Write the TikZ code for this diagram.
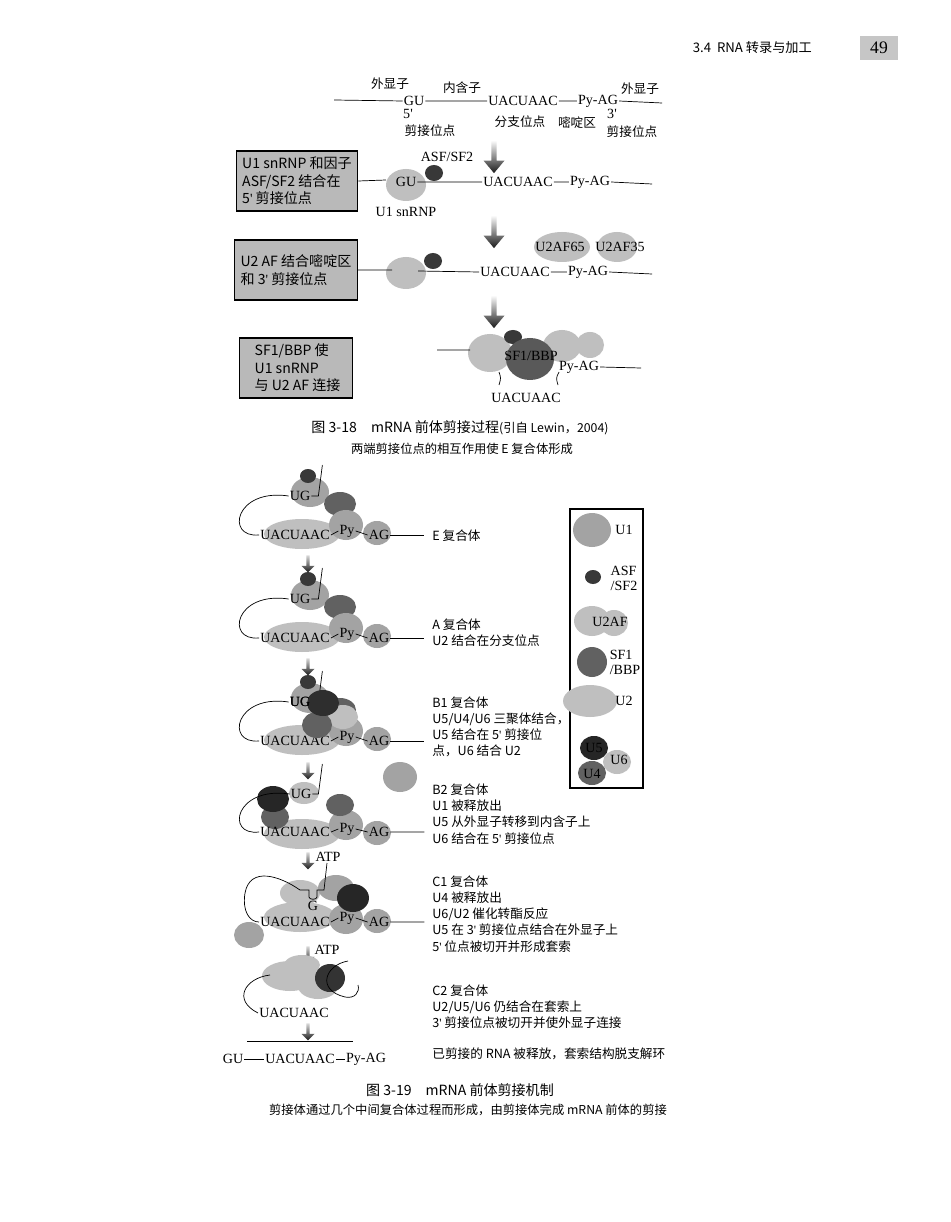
\documentclass[tikz,border=0pt]{standalone}
\usepackage{fontspec}
\setmainfont{Noto Sans CJK SC}
\newfontfamily\latinfont{Liberation Serif}
\newcommand\pr{{\latinfont'}}
\usetikzlibrary{shapes.arrows}
\tikzset{
	lt/.style={fill=gray!50},
	md/.style={fill=gray!72},
	dk/.style={fill=black!78},
	rna/.style={font=\latinfont\fontsize{8}{8.5}\selectfont, inner sep=0.5pt},
	note/.style={font=\fontsize{7.2}{9.2}\selectfont, anchor=west, align=left, inner sep=0pt},
	stagebox/.style={draw, line width=0.8pt, fill=gray!55, minimum width=2.26cm, minimum height=1.2cm, align=left, font=\fontsize{8}{10}\selectfont},
	downarrow/.style={single arrow, shape border rotate=270, top color=white, bottom color=black!90, minimum height=0.66cm, minimum width=0.42cm, single arrow head extend=0.02cm, single arrow tip angle=80, inner sep=0pt},
	smallarrow/.style={single arrow, shape border rotate=270, top color=gray!30, bottom color=black!90, minimum height=0.34cm, minimum width=0.26cm, single arrow head extend=0.02cm, inner sep=0pt}
}
% one complex: U1 with ASF, SF1, U2 and U2AF on the pre-mRNA
\newcommand\SpliceCore[2]{
	\begin{scope}[shift={(0,#1)}]
		\fill[md] (310,492) ellipse (19 and 15);
		\fill[dk] (308,476) ellipse (8 and 7);
		\fill[black!62] (340,504) ellipse (16 and 12);
		\fill[lt] (302,534) ellipse (38 and 15);
		\fill[md] (346,525) ellipse (17 and 15);
		\fill[md] (377,533) ellipse (14 and 12);
		\node[rna] (ug#2) at (300,496) {UG};
		\node[rna] (ua#2) at (295,535) {UACUAAC};
		\node[rna] (py#2) at (347,531) {Py};
		\node[rna] (ag#2) at (379,535) {AG};
		\draw (ug#2.east) -- ++(7,0) -- ++(4,-31);
		\draw (ug#2.west) .. controls (235,488) and (225,538) .. (ua#2.west);
		\draw (ua#2.east) -- (py#2.west) (py#2.east) -- (ag#2.west);
		\draw (ag#2.east) -- ++(34,0);
	\end{scope}
}
\begin{document}
\begin{tikzpicture}[x=0.02cm, y=-0.02cm]
	\useasboundingbox[fill=white] (0,0) rectangle (950,1222);

	% page header
	\node[font=\fontsize{7.5}{9}\selectfont, anchor=east] (header) at (818,48) {3.4\ \ RNA 转录与加工};
	\node[fill=gray!45, minimum width=0.76cm, minimum height=0.44cm, font=\latinfont\fontsize{10}{11}\selectfont] (pageno) at (879,48) {49};

	% ---------- Fig 3-18 ----------
	\node[rna] (gu0) at (414,101) {GU};
	\node[rna] (ua0) at (523,101) {UACUAAC};
	\node[rna] (pa0) at (598,101) {Py-AG};
	\coordinate (l0) at (334,100);
	\coordinate (r0) at (662,103);
	\draw (l0) -- (gu0.west) (gu0.east) -- (ua0.west) (ua0.east) -- (pa0.west) (pa0.east) -- (r0);
	\node[note, anchor=center] (ex1) at (390,84) {外显子};
	\node[note, anchor=center] (intr) at (462,88) {内含子};
	\node[note, anchor=center] (ex2) at (640,89) {外显子};
	\node[rna] (p5) at (408,114) {5'};
	\node[note, anchor=center] (ss5) at (430,131) {剪接位点};
	\node[note, anchor=center] (bps) at (520,122) {分支位点};
	\node[note, anchor=center] (ppt) at (577,123) {嘧啶区};
	\node[rna] (p3) at (612,114) {3'};
	\node[note, anchor=center] (ss3) at (632,132) {剪接位点};

	\node[downarrow] (a1) at (494,155) {};
	\node[downarrow] (a2) at (494,230) {};
	\node[downarrow] (a3) at (494,310) {};

	\node[stagebox] (box1) at (297,181) {U1 snRNP 和因子\\ASF/SF2 结合在\\5\pr\ 剪接位点};
	\node[stagebox] (box2) at (296,270) {U2 AF 结合嘧啶区\\和\ 3\pr\ 剪接位点};
	\node[stagebox] (box3) at (296,368) {\ SF1/BBP 使\\\ U1 snRNP\\\ 与 U2 AF 连接};

	% row 1
	\fill[lt] (406,185) ellipse (20 and 16);
	\fill[dk] (434,173) ellipse (9 and 8);
	\node[rna] (gu1) at (406,182) {GU};
	\node[rna] (asf1) at (447,157) {ASF/SF2};
	\node[rna] (u1lab) at (406,212) {U1 snRNP};
	\node[rna] (ua1) at (518,182) {UACUAAC};
	\node[rna] (pa1) at (590,182) {Py-AG};
	\coordinate (r1) at (652,184);
	\draw (box1.east) -- (386,180) (gu1.east) -- (ua1.west) (ua1.east) -- (pa1.west) (pa1.east) -- (r1);

	% row 2
	\fill[lt] (406,273) ellipse (20 and 16);
	\fill[dk] (433,261) ellipse (9 and 8);
	\fill[lt] (562,247) ellipse (28 and 15);
	\fill[lt] (617,247) ellipse (20 and 15);
	\node[rna] (u2af65) at (560,247) {U2AF65};
	\node[rna] (u2af35) at (620,247) {U2AF35};
	\node[rna] (ua2) at (515,272) {UACUAAC};
	\node[rna] (pa2) at (588,272) {Py-AG};
	\coordinate (r2) at (652,274);
	\draw (box2.east) -- (392,270) (418,271) -- (ua2.west) (ua2.east) -- (pa2.west) (pa2.east) -- (r2);

	% row 3
	\fill[lt] (562,346) ellipse (19 and 16);
	\fill[lt] (590,345) ellipse (14 and 13);
	\fill[lt] (490,353) ellipse (22 and 19);
	\fill[dk] (513,337) ellipse (9 and 7);
	\fill[black!65] (530,359) ellipse (24 and 21);
	\node[rna] (sf1) at (531,356) {SF1/BBP};
	\node[rna] (pa3) at (579,367) {Py-AG};
	\node[rna] (ua3) at (526,398) {UACUAAC};
	\coordinate (l3) at (437,350);
	\coordinate (r3) at (641,368);
	\draw (l3) -- (470,350) (pa3.east) -- (r3);
	\draw (499,372) .. controls (501,378) .. (499,385);
	\draw (559,372) .. controls (556,378) .. (558,385);

	\node[font=\fontsize{8}{10}\selectfont] (cap18) at (460,428) {图 3-18\quad mRNA 前体剪接过程{\fontsize{7}{8}\selectfont (引自 Lewin，2004)}};
	\node[font=\fontsize{7}{8}\selectfont] (sub18) at (462,449) {两端剪接位点的相互作用使 E 复合体形成};

	% ---------- Fig 3-19 ----------
	\SpliceCore{0}{E}
	\node[note] (tE) at (432,536) {E 复合体};
	\node[smallarrow] (s1) at (308,563) {};

	\SpliceCore{103}{A}
	\node[note] (tA) at (432,633) {A 复合体\\U2 结合在分支位点};
	\node[smallarrow] (s2) at (308,666) {};

	\SpliceCore{206}{B}
	\fill[lt] (343,717) ellipse (15 and 12);
	\fill[black!62] (317,725) ellipse (15 and 13);
	\fill[black!82] (323,703) ellipse (16 and 13);
	\node[rna] at (300,702) {UG};
	\node[note] (tB1) at (432,727) {B1 复合体\\U5/U4/U6 三聚体结合，\\U5 结合在 5\pr\ 剪接位\\点，U6 结合 U2};
	\node[smallarrow] (s3) at (308,770) {};

	% B2
	\fill[md] (400,777) ellipse (17 and 15);
	\fill[lt] (302,834) ellipse (38 and 15);
	\fill[md] (346,825) ellipse (17 and 15);
	\fill[md] (377,833) ellipse (14 and 12);
	\fill[black!62] (340,805) ellipse (14 and 11);
	\fill[lt] (304,793) ellipse (15 and 11);
	\fill[black!62] (275,817) ellipse (14 and 12);
	\fill[black!85] (273,799) ellipse (16 and 13);
	\node[rna] (ugB2) at (301,794) {UG};
	\node[rna] (uaB2) at (295,832) {UACUAAC};
	\node[rna] (pyB2) at (347,829) {Py};
	\node[rna] (agB2) at (379,832) {AG};
	\draw (ugB2.east) -- ++(6,0) -- ++(4,-30);
	\draw (ugB2.west) .. controls (235,786) and (225,836) .. (uaB2.west);
	\draw (uaB2.east) -- (pyB2.west) (pyB2.east) -- (agB2.west) (agB2.east) -- ++(34,0);
	\node[note] (tB2) at (432,814) {B2 复合体\\U1 被释放出\\U5 从外显子转移到内含子上\\U6 结合在 5\pr\ 剪接位点};
	\node[smallarrow] (s4) at (308,860) {};
	\node[rna] (atp1) at (328,857) {ATP};

	% C1
	\fill[md] (249,935) ellipse (15 and 13);
	\fill[lt] (300,893) ellipse (20 and 13);
	\fill[md] (336,888) ellipse (18 and 13);
	\fill[lt] (300,917) ellipse (36 and 15);
	\fill[md] (346,919) ellipse (17 and 15);
	\fill[md] (377,921) ellipse (14 and 12);
	\fill[black!85] (353,898) ellipse (16 and 14);
	\node[rna] (gC) at (313,906) {G};
	\node[rna] (uaC) at (295,922) {UACUAAC};
	\node[rna] (pyC) at (347,918) {Py};
	\node[rna] (agC) at (379,922) {AG};
	\draw (327,863) -- (324,890) -- (317,890) -- (317,897) .. controls (317,900) and (309,900) .. (309,897) -- (309,890) -- (300,890)
		.. controls (280,876) and (250,866) .. (245,893) .. controls (242,912) and (250,922) .. (uaC.west);
	\draw (uaC.east) -- (pyC.west) (pyC.east) -- (agC.west) (agC.east) -- ++(34,0);
	\node[note] (tC1) at (432,914) {C1 复合体\\U4 被释放出\\U6/U2 催化转酯反应\\U5 在 3\pr\ 剪接位点结合在外显子上\\5\pr\ 位点被切开并形成套索};
	\node[smallarrow] (s5) at (308,954) {};
	\node[rna] (atp2) at (327,950) {ATP};

	% C2
	\fill[lt] (290,976) ellipse (28 and 15);
	\fill[lt] (318,986) ellipse (20 and 13);
	\fill[lt] (302,965) ellipse (18 and 10);
	\fill[black!80] (330,978) ellipse (15 and 14);
	\node[rna] (uaC2) at (294,1013) {UACUAAC};
	\draw (348,961) .. controls (325,965) and (316,990) .. (345,997) .. controls (355,999) and (360,992) .. (358,985);
	\draw (270,975) .. controls (245,978) and (232,1000) .. (uaC2.west);
	\node[note] (tC2) at (432,1007) {C2 复合体\\U2/U5/U6 仍结合在套索上\\3\pr\ 剪接位点被切开并使外显子连接};
	\node[smallarrow] (s6) at (308,1031) {};
	\coordinate (lw1) at (247,1041);
	\coordinate (lw2) at (353,1041);
	\draw (lw1) -- (lw2);
	\node[rna] (guF) at (233,1059) {GU};
	\node[rna] (uaF) at (300,1059) {UACUAAC};
	\node[rna] (paF) at (366,1059) {Py-AG};
	\draw (guF.east) -- (uaF.west) (uaF.east) -- (paF.west);
	\node[note] (tF) at (432,1054) {已剪接的 RNA 被释放，套索结构脱支解环};

	\node[font=\fontsize{8}{10}\selectfont] (cap19) at (460,1090) {图 3-19\quad mRNA 前体剪接机制};
	\node[font=\fontsize{7}{8}\selectfont] (sub19) at (468,1110) {剪接体通过几个中间复合体过程而形成，由剪接体完成 mRNA 前体的剪接};

	% legend
	\draw[line width=0.8pt] (570,509) rectangle (643,788);
	\fill[md] (592,530) ellipse (19 and 17);
	\node[rna] (kU1) at (624,530) {U1};
	\fill[dk] (593,577) ellipse (8 and 7);
	\node[rna, align=left] (kASF) at (624,578) {ASF\\/SF2};
	\fill[lt] (592,621) ellipse (18 and 15);
	\fill[lt] (614,623) ellipse (14 and 13);
	\node[rna] (kU2AF) at (610,622) {U2AF};
	\fill[black!62] (592,662) ellipse (15 and 15);
	\node[rna, align=left] (kSF1) at (625,662) {SF1\\/BBP};
	\fill[lt] (590,701) ellipse (27 and 16);
	\node[rna] (kU2) at (624,701) {U2};
	\fill[lt] (617,762) ellipse (14 and 12);
	\fill[black!85] (594,748) ellipse (14 and 12);
	\fill[black!62] (592,773) ellipse (14 and 12);
	\node[rna] (kU5) at (594,748) {U5};
	\node[rna] (kU4) at (592,774) {U4};
	\node[rna] (kU6) at (619,760) {U6};
\end{tikzpicture}
\end{document}
